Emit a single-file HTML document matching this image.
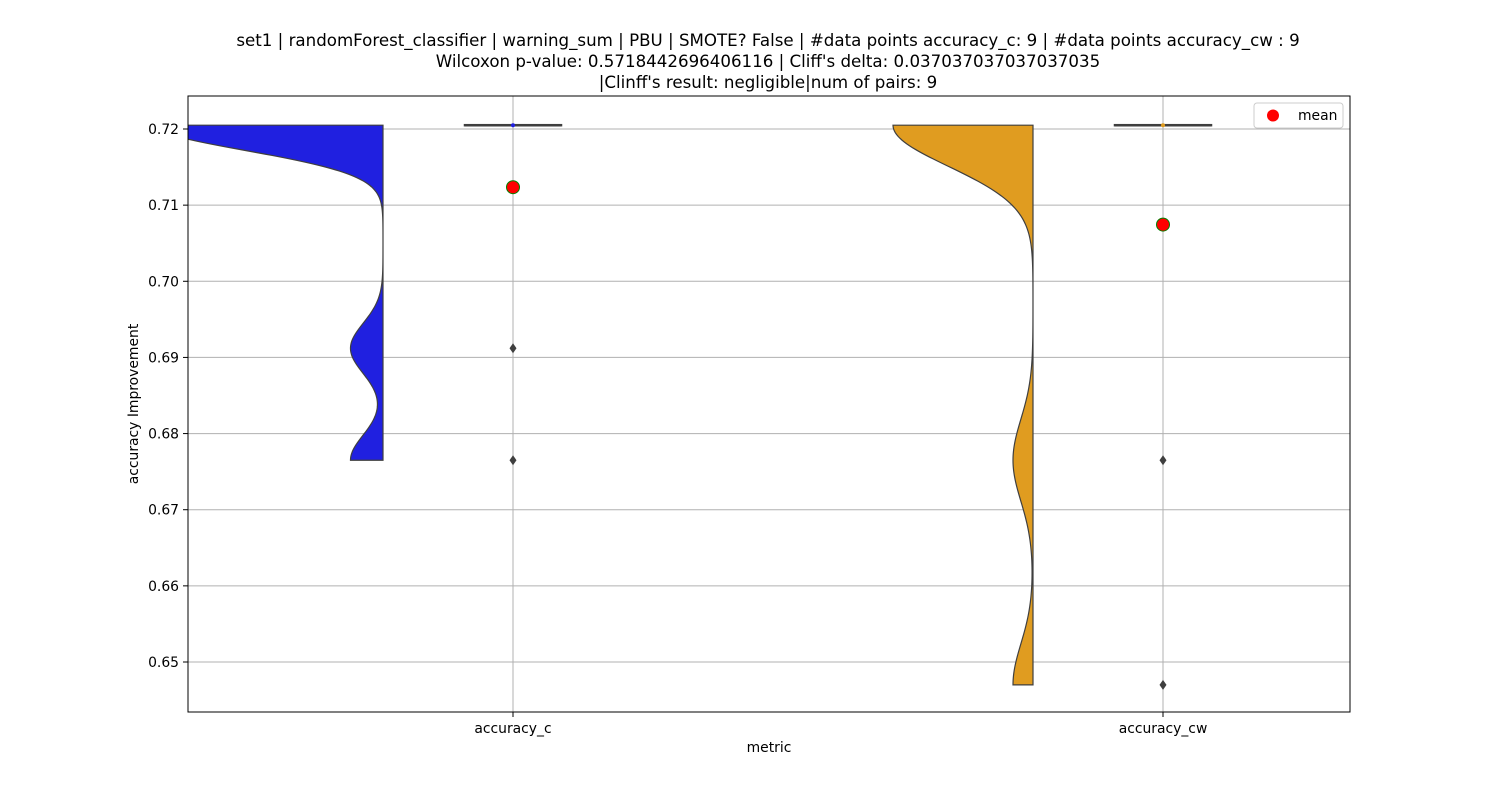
<!DOCTYPE html>
<html><head><meta charset="utf-8"><style>
body{margin:0;background:#fff;}
svg text{font-family:"DejaVu Sans","Liberation Sans",sans-serif;}
</style></head><body>
<svg id="chart" width="1500" height="800" xmlns="http://www.w3.org/2000/svg">
<defs><clipPath id="clip"><rect x="188" y="96" width="1162" height="616"/></clipPath></defs>
<rect x="0" y="0" width="1500" height="800" fill="#fff"/>
<g font-size="16.67" text-anchor="middle" fill="#000">
<text x="768" y="46">set1 | randomForest_classifier | warning_sum | PBU | SMOTE? False | #data points accuracy_c: 9 | #data points accuracy_cw : 9</text>
<text x="768" y="67">Wilcoxon p-value: 0.5718442696406116 | Cliff's delta: 0.037037037037037035</text>
<text x="768" y="88">|Clinff's result: negligible|num of pairs: 9</text>
</g>
<g id="grid"></g>
<g id="violins" clip-path="url(#clip)"></g>
<g id="boxes"></g>
<rect x="188" y="96" width="1162" height="616" fill="none" stroke="#000" stroke-width="1"/>
<g id="axes"></g>
<text x="769" y="752" font-size="13.9" text-anchor="middle">metric</text>
<text transform="translate(138,404) rotate(-90)" font-size="13.9" text-anchor="middle">accuracy Improvement</text>
<g>
<rect x="1254" y="103" width="89" height="25" rx="3" fill="#fff" stroke="#ccc"/>
<circle cx="1273" cy="115.5" r="6" fill="red"/>
<text x="1298" y="120" font-size="13.9">mean</text>
</g>
</svg>
<script>
const categories=["accuracy_c","accuracy_cw"];
const valuesC=[0.7205,0.7205,0.7205,0.7205,0.7205,0.7205,0.7205,0.6912,0.6765];
const valuesCW=[0.7205,0.7205,0.7205,0.7205,0.7205,0.7205,0.7205,0.6765,0.6470];
const yTicks=[0.65,0.66,0.67,0.68,0.69,0.70,0.71,0.72];
const colors=["#2020e0","#e09c20"];
const NS="http://www.w3.org/2000/svg";
const y=v=>129+(0.72-v)*7614.3;
const xc=i=>513+i*650;
function mk(t,a,p){const e=document.createElementNS(NS,t);for(const k in a)e.setAttribute(k,a[k]);p.appendChild(e);return e;}
const grid=document.getElementById('grid'),axes=document.getElementById('axes');
yTicks.forEach(v=>{
 const l=mk('line',{x1:188,x2:1350,y1:y(v),y2:y(v),stroke:'#b0b0b0','stroke-width':1},grid);
 
 const tk=mk('line',{x1:183,x2:188,y1:y(v),y2:y(v),stroke:'#000'},axes);
 
 const t=mk('text',{x:179,y:y(v)+5,'font-size':13.9,'text-anchor':'end'},axes);t.textContent=v.toFixed(2);
 
});
categories.forEach((c,i)=>{
 const l=mk('line',{x1:xc(i),x2:xc(i),y1:96,y2:712,stroke:'#b0b0b0'},grid);
 
 const tk=mk('line',{x1:xc(i),x2:xc(i),y1:712,y2:717,stroke:'#000'},axes);
 
 const t=mk('text',{x:xc(i),y:733,'font-size':13.9,'text-anchor':'middle'},axes);t.textContent=c;
 
});
function stats(a){const m=a.reduce((s,v)=>s+v,0)/a.length;const sd=Math.sqrt(a.reduce((s,v)=>s+(v-m)*(v-m),0)/(a.length-1));return{m,sd};}
function kde(a,h,v){return a.reduce((s,d)=>s+Math.exp(-0.5*((v-d)/h)**2),0)/(a.length*h*Math.sqrt(2*Math.PI));}
const sets=[valuesC,valuesCW];
const bwFactor=0.2;
const info=sets.map(a=>{const s=stats(a);const h=s.sd*bwFactor;const lo=Math.min(...a),hi=Math.max(...a);const pts=[];let mx=0;for(let k=0;k<=300;k++){const v=lo+(hi-lo)*k/300;const d=kde(a,h,v);mx=Math.max(mx,d);pts.push([v,d]);}return{s,lo,hi,pts,mx};});
const scale=140/info[1].mx;
const vg=document.getElementById('violins'),bg=document.getElementById('boxes');
info.forEach((inf,i)=>{
 const xr=xc(i)-130;
 let d=`M${xr},${y(inf.hi)}`;
 for(let k=inf.pts.length-1;k>=0;k--){const [v,den]=inf.pts[k];d+=` L${xr-den*scale},${y(v)}`;}
 d+=` L${xr},${y(inf.lo)} Z`;
 const p=mk('path',{d,fill:colors[i],stroke:'#3f3f3f','stroke-width':1.2},vg);
 
 const a=[...sets[i]].sort((x,z)=>x-z);
 const q=f=>{const pos=(a.length-1)*f,l=Math.floor(pos);return a[l]+(a[Math.min(l+1,a.length-1)]-a[l])*(pos-l);};
 const q1=q(0.25),q3=q(0.75),iqr=q3-q1;
 const bx=mk('rect',{x:xc(i)-48,y:y(q3),width:96,height:Math.max(y(q1)-y(q3),0.01),fill:colors[i],stroke:'#3f3f3f','stroke-width':2.5},bg);
 
 const md=mk('line',{x1:xc(i)-48,x2:xc(i)+48,y1:y(q(0.5)),y2:y(q(0.5)),stroke:'#3f3f3f','stroke-width':2.5},bg);
 
 const mdot=mk('circle',{cx:xc(i),cy:y(q(0.5)),r:2,fill:colors[i]},bg);
 
 a.filter(v=>v<q1-1.5*iqr||v>q3+1.5*iqr).forEach(v=>{
  const o=mk('path',{d:`M${xc(i)},${y(v)-5} L${xc(i)+3.5},${y(v)} L${xc(i)},${y(v)+5} L${xc(i)-3.5},${y(v)} Z`,fill:'#3f3f3f'},bg);
  
 });
 const mc=mk('circle',{cx:xc(i),cy:y(inf.s.m),r:6.5,fill:'red',stroke:'green','stroke-width':1},bg);
 
});
</script>
</body></html>
